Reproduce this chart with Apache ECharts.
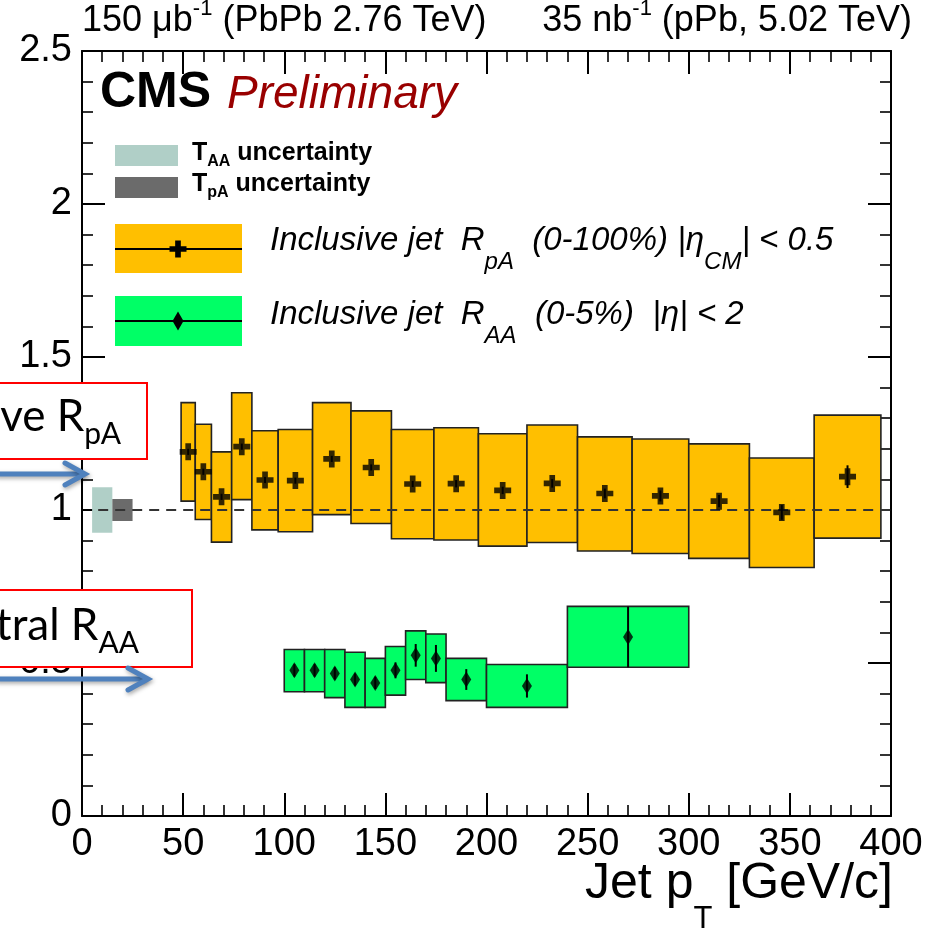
<!DOCTYPE html>
<html>
<head>
<meta charset="utf-8">
<script src="https://cdn.jsdelivr.net/npm/echarts@6/dist/echarts.min.js"></script>
<style>
html,body{margin:0;padding:0;background:#fff;}
#c{width:927px;height:930px;}
</style>
</head>
<body>
<div id="c"></div>
<script>
// ---------- data ----------
// pPb inclusive jet R_pA (0-100%)
const pPbBinLow  = [49,56,64,74,84,97,114,133,153,174,196,220,245,272,300,330,362];
const pPbBinHigh = [56,64,74,84,97,114,133,153,174,196,220,245,272,300,330,362,395];
const pPbPt      = [52.5,60,69,79,90.5,105.5,123.5,143,163.5,185,208,232.5,258.5,286,315,346,378.5];
const pPbR       = [1.190,1.125,1.043,1.207,1.098,1.096,1.167,1.139,1.085,1.086,1.064,1.087,1.054,1.046,1.029,0.992,1.109];
const pPbSysLow  = [1.029,0.969,0.895,1.034,0.935,0.929,0.985,0.956,0.906,0.902,0.882,0.894,0.866,0.858,0.842,0.812,0.908];
const pPbSysHigh = [1.351,1.280,1.190,1.383,1.259,1.263,1.351,1.324,1.263,1.269,1.249,1.278,1.239,1.232,1.216,1.170,1.310];
const pPbStat    = [0.010,0.010,0.010,0.010,0.010,0.010,0.010,0.010,0.010,0.012,0.012,0.014,0.016,0.018,0.020,0.024,0.037];

// PbPb inclusive jet R_AA (0-5%)
const aaBinLow  = [100,110,120,130,140,150,160,170,180,200,240];
const aaBinHigh = [110,120,130,140,150,160,170,180,200,240,300];
const aaPt      = [105,115,125,135,145,155,165,175,190,220,270];
const aaR       = [0.476,0.476,0.466,0.446,0.435,0.476,0.525,0.515,0.446,0.425,0.585];
const aaSysLow  = [0.406,0.406,0.387,0.355,0.355,0.395,0.446,0.436,0.377,0.355,0.486];
const aaSysHigh = [0.544,0.544,0.544,0.535,0.515,0.554,0.605,0.595,0.515,0.495,0.685];
const aaStat    = [0.020,0.020,0.020,0.020,0.020,0.026,0.037,0.044,0.034,0.038,0.099];

// normalisation uncertainties at unity
const normLabels = ['TAA','TpA'];
const normLow    = [5,15];
const normHigh   = [15,25];
const normYLow   = [0.926,0.964];
const normYHigh  = [1.074,1.036];

// reference line
const refX = [8,400];
const refY = [1,1];

// axes
const xMin = 0, xMax = 400, xStep = 50;
const yMin = 0, yMax = 2.5, yStep = 0.5;

// ---------- build ----------
const FONT = "'Liberation Sans', Arial, Helvetica, sans-serif";
const OVFONT = "Lato, 'Open Sans', sans-serif";
const ORANGE = '#ffbf00', GREEN = '#00ff66', TEAL = '#b0cfc7', GREY = '#6b6b6b', DRED = '#990000';
const BLUE = '#4f81bd';

const pPbBoxes = pPbBinLow.map((l,i)=>[l,pPbBinHigh[i],pPbSysLow[i],pPbSysHigh[i]]);
const aaBoxes  = aaBinLow.map((l,i)=>[l,aaBinHigh[i],aaSysLow[i],aaSysHigh[i]]);
const normBoxes = normLow.map((l,i)=>[l,normHigh[i],normYLow[i],normYHigh[i],i]);
const pPbPts = pPbPt.map((x,i)=>[x,pPbR[i]]);
const aaPts  = aaPt.map((x,i)=>[x,aaR[i]]);
const statBars = pPbPt.map((x,i)=>[x,pPbR[i]-pPbStat[i],pPbR[i]+pPbStat[i]])
  .concat(aaPt.map((x,i)=>[x,aaR[i]-aaStat[i],aaR[i]+aaStat[i]]));

function boxRender(fill, stroke){
  return function(params, api){
    const p0 = api.coord([api.value(0), api.value(3)]);
    const p1 = api.coord([api.value(1), api.value(2)]);
    let f = fill;
    if (typeof fill === 'function') f = fill(api.value(4));
    return {type:'rect', shape:{x:p0[0], y:p0[1], width:p1[0]-p0[0], height:p1[1]-p0[1]},
      style:{fill:f, stroke:stroke || null, lineWidth: stroke ? 1.6 : 0}};
  };
}
function barRender(params, api){
  const a = api.coord([api.value(0), api.value(1)]);
  const b = api.coord([api.value(0), api.value(2)]);
  return {type:'line', shape:{x1:a[0],y1:a[1],x2:b[0],y2:b[1]}, style:{stroke:'#000', lineWidth:2}};
}

const CROSS = 'path://M2,0H4V2H6V4H4V6H2V4H0V2H2Z';

function axisCommon(showLabels){
  return {
    axisLine:{show:true, onZero:false, lineStyle:{color:'#000', width:2}},
    axisTick:{show:true, inside:true, length:23, lineStyle:{color:'#000', width:2}},
    minorTick:{show:true, splitNumber:5, length:11, lineStyle:{color:'#000', width:1.6}},
    splitLine:{show:false},
    axisLabel:{show:showLabels, color:'#000', fontFamily:FONT, fontSize:38, margin:10}
  };
}

const option = {
  animation:false,
  backgroundColor:'#fff',
  grid:{left:82, right:36, top:51, bottom:114, containLabel:false},
  xAxis:[
    Object.assign({type:'value', min:xMin, max:xMax, interval:xStep, position:'bottom'}, axisCommon(true)),
    Object.assign({type:'value', min:xMin, max:xMax, interval:xStep, position:'top'}, axisCommon(false))
  ],
  yAxis:[
    Object.assign({type:'value', min:yMin, max:yMax, interval:yStep, position:'left'}, axisCommon(true)),
    Object.assign({type:'value', min:yMin, max:yMax, interval:yStep, position:'right'}, axisCommon(false))
  ],
  series:[
    {type:'custom', name:'norm', data:normBoxes, encode:{x:[0,1], y:[2,3]}, z:2,
      renderItem: boxRender(i => i===0 ? TEAL : GREY, null)},
    {type:'custom', name:'pPb sys', data:pPbBoxes, encode:{x:[0,1], y:[2,3]}, z:3,
      renderItem: boxRender(ORANGE, '#222')},
    {type:'custom', name:'PbPb sys', data:aaBoxes, encode:{x:[0,1], y:[2,3]}, z:3,
      renderItem: boxRender(GREEN, '#222')},
    {type:'line', name:'unity', data:refX.map((x,i)=>[x,refY[i]]), symbol:'none', z:4,
      lineStyle:{color:'#333', width:2, type:[10,7]}},
    {type:'custom', name:'stat', data:statBars, encode:{x:0, y:[1,2]}, z:5, renderItem:barRender},
    {type:'scatter', name:'RpA', data:pPbPts, symbol:CROSS, symbolSize:17, z:6,
      itemStyle:{color:'#000'}},
    {type:'scatter', name:'RAA', data:aaPts, symbol:'diamond', symbolSize:[10,16], z:6,
      itemStyle:{color:'#000'}}
  ],
  graphic:[]
};

const G = option.graphic;
function txt(x, y, text, rich, align){
  G.push({type:'text', x:x, y:y, z:100,
    style:{text:text, rich:rich, align:align||'left', verticalAlign:'top', fill:'#000', font:'30px '+FONT}});
}
function crossPts(cx, cy, s){
  const a = s/6, b = s/2;
  return [[cx-a,cy-b],[cx+a,cy-b],[cx+a,cy-a],[cx+b,cy-a],[cx+b,cy+a],[cx+a,cy+a],
          [cx+a,cy+b],[cx-a,cy+b],[cx-a,cy+a],[cx-b,cy+a],[cx-b,cy-a],[cx-a,cy-a]];
}
// top labels (superscripts)
const topRich = {m:{fontFamily:FONT, fontSize:36, lineHeight:41, verticalAlign:'bottom', color:'#000'},
                 s:{fontFamily:FONT, fontSize:22, lineHeight:22, verticalAlign:'top', color:'#000'}};
txt(82, -2, '{m|150 μb}{s|-1}{m| (PbPb 2.76 TeV)}', topRich);
txt(912, -2, '{m|35 nb}{s|-1}{m| (pPb, 5.02 TeV)}', topRich, 'right');

// CMS Preliminary
G.push({type:'text', x:100, y:118, z:100, style:{text:'CMS', fill:'#000', font:'bold 50px '+FONT, verticalAlign:'bottom'}});
G.push({type:'text', x:227, y:118, z:100, style:{text:'Preliminary', fill:DRED, font:'italic 46px '+FONT, verticalAlign:'bottom'}});

// legend small
G.push({type:'rect', z:100, shape:{x:115,y:145,width:63,height:21}, style:{fill:TEAL}});
G.push({type:'rect', z:100, shape:{x:115,y:177,width:63,height:21}, style:{fill:GREY}});
const smallRich = {m:{fontFamily:FONT, fontWeight:'bold', fontSize:25, lineHeight:25, verticalAlign:'top', color:'#000'},
                   s:{fontFamily:FONT, fontWeight:'bold', fontSize:16, lineHeight:29, verticalAlign:'bottom', color:'#000'}};
txt(192, 141, '{m|T}{s|AA}{m| uncertainty}', smallRich);
txt(192, 172, '{m|T}{s|pA}{m| uncertainty}', smallRich);

// legend big
G.push({type:'rect', z:100, shape:{x:115,y:224,width:127,height:49}, style:{fill:ORANGE}});
G.push({type:'line', z:101, shape:{x1:115,y1:249,x2:242,y2:249}, style:{stroke:'#000', lineWidth:2}});
G.push({type:'polygon', z:102, shape:{points:crossPts(178,249,17)}, style:{fill:'#000'}});
G.push({type:'rect', z:100, shape:{x:115,y:296,width:127,height:50}, style:{fill:GREEN}});
G.push({type:'line', z:101, shape:{x1:115,y1:321,x2:242,y2:321}, style:{stroke:'#000', lineWidth:2}});
G.push({type:'polygon', z:102, shape:{points:[[178,311.5],[183.5,321],[178,330.5],[172.5,321]]}, style:{fill:'#000'}});

const bigRich = {m:{fontFamily:FONT, fontStyle:'italic', fontSize:33, lineHeight:33, verticalAlign:'top', color:DRED},
                 s:{fontFamily:FONT, fontStyle:'italic', fontSize:24, lineHeight:50, verticalAlign:'bottom', color:DRED}};
txt(270, 224, '{m|Inclusive jet  R}{s|pA}{m|  (0-100%) |η}{s|CM}{m|| < 0.5}', bigRich);
txt(270, 298, '{m|Inclusive jet  R}{s|AA}{m|  (0-5%)  |η| < 2}', bigRich);

// x axis title
const titleRich = {m:{fontFamily:FONT, fontSize:50, lineHeight:50, verticalAlign:'top', color:'#000'},
                   s:{fontFamily:FONT, fontSize:31, lineHeight:76, verticalAlign:'bottom', color:'#000'}};
txt(893, 859, '{m|Jet p}{s|T}{m| [GeV/c]}', titleRich, 'right');

// slide overlays (annotation boxes + arrows)
G.push({type:'rect', z:110, shape:{x:-3,y:383,width:150,height:76}, style:{fill:'#fff', stroke:'#ff0000', lineWidth:2}});
G.push({type:'rect', z:110, shape:{x:-3,y:590,width:195,height:77}, style:{fill:'#fff', stroke:'#ff0000', lineWidth:2}});
const ovRich = {m:{fontFamily:OVFONT, fontSize:44, lineHeight:44, verticalAlign:'top', color:'#000'},
                s:{fontFamily:OVFONT, fontSize:30, lineHeight:54, verticalAlign:'bottom', color:'#000'}};
G.push({type:'text', x:121, y:395, z:111, style:{text:'{m|ve R}{s|pA}', rich:ovRich, align:'right', verticalAlign:'top'}});
G.push({type:'text', x:139, y:604, z:111, style:{text:'{m|tral R}{s|AA}', rich:ovRich, align:'right', verticalAlign:'top'}});
function arrow(y, tip){
  const sh = {shadowBlur:4, shadowColor:'rgba(0,0,0,0.35)', shadowOffsetX:1, shadowOffsetY:2};
  G.push({type:'line', z:112, shape:{x1:-5,y1:y,x2:tip-2,y2:y}, style:Object.assign({stroke:BLUE, lineWidth:5}, sh)});
  G.push({type:'polyline', z:112, shape:{points:[[tip-20,y-11],[tip,y],[tip-20,y+11]]}, style:Object.assign({stroke:BLUE, lineWidth:5, fill:null, lineJoin:'miter', lineCap:'round'}, sh)});
}
arrow(474, 85);
arrow(679, 148);

const chart = echarts.init(document.getElementById('c'));
chart.setOption(option);
</script>
</body>
</html>
